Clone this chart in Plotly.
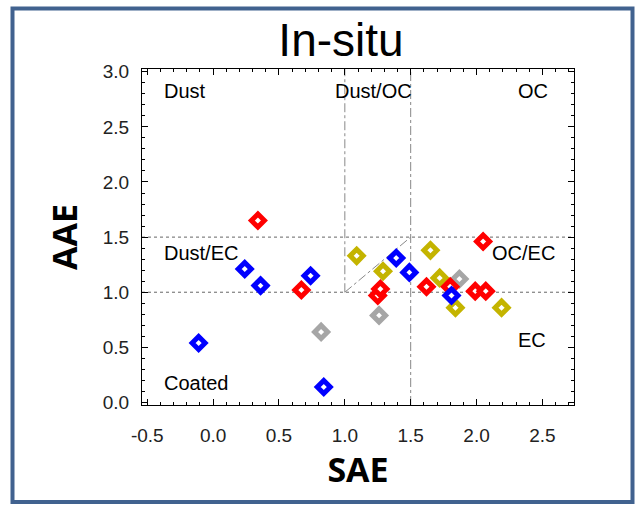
import plotly.graph_objects as go

# ---- data ----
red_sae  = [0.34, 0.67, 1.25, 1.27, 1.62, 2.05, 1.80, 1.99, 2.07]
red_aae  = [1.65, 1.02, 0.97, 1.03, 1.05, 1.46, 1.05, 1.01, 1.01]
gray_sae = [0.82, 1.26, 1.87]
gray_aae = [0.64, 0.79, 1.12]
yel_sae  = [1.09, 1.29, 1.65, 1.72, 1.84, 2.19]
yel_aae  = [1.33, 1.19, 1.38, 1.13, 0.86, 0.86]
blue_sae = [-0.11, 0.24, 0.36, 0.74, 0.84, 1.39, 1.49, 1.81]
blue_aae = [0.54, 1.21, 1.06, 1.15, 0.14, 1.31, 1.18, 0.97]

region_labels = ["Dust", "Dust/OC", "OC", "Dust/EC", "OC/EC", "EC", "Coated"]
region_x = [-0.39, 1.215, 2.30, -0.39, 2.10, 2.30, -0.39]
region_y = [2.83, 2.83, 2.83, 1.355, 1.355, 0.565, 0.175]
region_anchor = ["left", "center", "left", "left", "left", "left", "left"]

x_range = [-0.54, 2.74]
y_range = [-0.023, 3.025]
x_ticks = [-0.5, 0.0, 0.5, 1.0, 1.5, 2.0, 2.5]
y_ticks = [0.0, 0.5, 1.0, 1.5, 2.0, 2.5, 3.0]

W, H = 635, 505
ML, MR, MT, MB = 142, 61, 69, 100

fig = go.Figure()

def add_series(xs, ys, color):
    fig.add_trace(go.Scatter(
        x=xs, y=ys, mode="markers", showlegend=False,
        marker=dict(symbol="diamond", size=10, color="white",
                    line=dict(color=color, width=5)),
    ))

add_series(gray_sae, gray_aae, "#a6a6a6")
add_series(yel_sae, yel_aae, "#c4b400")
add_series(red_sae, red_aae, "#ff0000")
add_series(blue_sae, blue_aae, "#0000ff")

# region boundary lines
line_dot = dict(color="#666666", width=1, dash="dot")
line_dd = dict(color="#888888", width=1, dash="dashdot")
fig.add_shape(type="line", x0=x_range[0], x1=x_range[1], y0=1.0, y1=1.0, line=line_dot, layer="below")
fig.add_shape(type="line", x0=x_range[0], x1=x_range[1], y0=1.5, y1=1.5, line=line_dot, layer="below")
fig.add_shape(type="line", x0=1.0, x1=1.0, y0=1.0, y1=y_range[1], line=line_dd, layer="below")
fig.add_shape(type="line", x0=1.5, x1=1.5, y0=y_range[0], y1=y_range[1], line=line_dd, layer="below")
fig.add_shape(type="line", x0=1.0, x1=1.5, y0=1.0, y1=1.5, line=line_dd, layer="below")

for t, x, y, a in zip(region_labels, region_x, region_y, region_anchor):
    fig.add_annotation(x=x, y=y, text=t, showarrow=False, xanchor=a, yanchor="middle",
                       font=dict(family="Liberation Sans", size=20, color="black"))

# outer frame (paper coords from pixel positions)
pw, ph = W - ML - MR, H - MT - MB
def px2paper_x(px): return (px - ML) / pw
def px2paper_y(py): return (H - MB - py) / ph
fig.add_shape(type="rect", xref="paper", yref="paper",
              x0=px2paper_x(12.5), x1=px2paper_x(632.5),
              y0=px2paper_y(502), y1=px2paper_y(8.5),
              line=dict(color="#41628f", width=4), fillcolor="rgba(0,0,0,0)")

axis_common = dict(
    showgrid=False, zeroline=False, showline=True, linecolor="black", linewidth=1,
    mirror="allticks", ticks="inside", ticklen=6, tickcolor="black", tickwidth=1,
    tickfont=dict(family="Liberation Sans", size=19, color="#222222"),
    minor=dict(ticks="inside", ticklen=3, tickcolor="black", dtick=0.1, showgrid=False),
)

fig.update_xaxes(range=x_range, tickvals=x_ticks, ticktext=[f"{v:.1f}" for v in x_ticks],
                 ticklabelstandoff=13,
                 title=dict(text="SAE", standoff=10,
                            font=dict(family="Open Sans", size=34, color="black", weight="bold")),
                 **axis_common)
fig.update_yaxes(range=y_range, tickvals=y_ticks, ticktext=[f"{v:.1f}" for v in y_ticks],
                 ticklabelstandoff=8,
                 title=dict(text="AAE", standoff=14,
                            font=dict(family="Open Sans", size=34, color="black", weight="bold")),
                 **axis_common)

fig.update_layout(
    width=W, height=H,
    margin=dict(l=ML, r=MR, t=MT, b=MB, autoexpand=False),
    paper_bgcolor="white", plot_bgcolor="white",
    title=dict(text="In-situ", x=(341 - ML) / pw, xref="paper", xanchor="center",
               y=1 - 40 / H, yref="container", yanchor="middle",
               font=dict(family="Liberation Sans", size=46, color="black")),
)

fig.write_html("out.html")
